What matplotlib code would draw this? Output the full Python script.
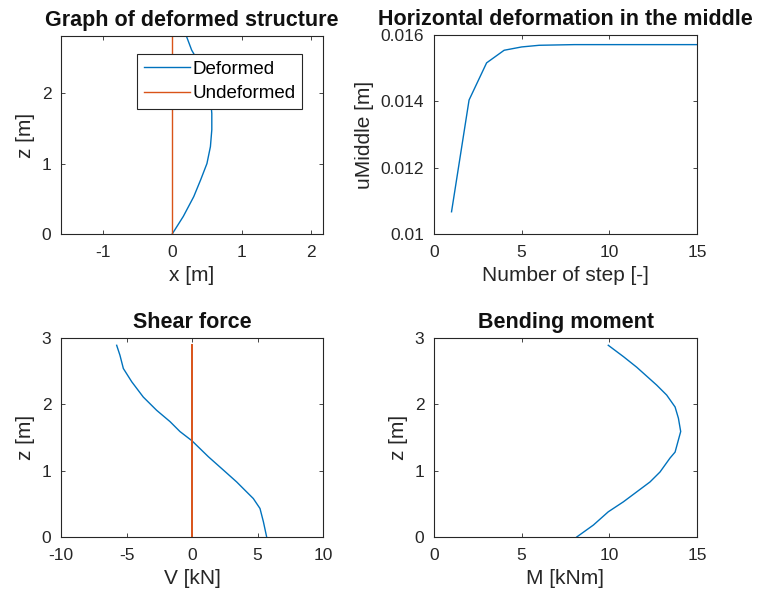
import matplotlib
matplotlib.use("Agg")
import matplotlib.pyplot as plt
from matplotlib.ticker import FuncFormatter

plt.rcParams['font.family'] = ['Liberation Sans', 'DejaVu Sans']
plt.rcParams['axes.unicode_minus'] = False

# deformed shape of the column
z_def = [0.0, 0.25, 0.53, 0.77, 1.0, 1.24, 1.48, 1.71, 1.95, 2.14, 2.28, 2.44, 2.61, 2.82]
x_def = [0.0, 0.16, 0.31, 0.41, 0.50, 0.55, 0.57, 0.57, 0.55, 0.50, 0.45, 0.38, 0.28, 0.20]
z_undef = [0.0, 2.9]
x_undef = [0.0, 0.0]

# horizontal deformation at mid height per iteration step
steps = [1, 2, 3, 4, 5, 6, 7, 8, 9, 10, 11, 12, 13, 14, 15]
u_middle = [0.01067, 0.01404, 0.01516, 0.01554, 0.01564, 0.01569, 0.01570,
            0.01571, 0.01571, 0.01571, 0.01571, 0.01571, 0.01571, 0.01571, 0.01571]

# shear force
z_shear = [0.0, 0.23, 0.43, 0.58, 0.68, 0.83, 1.01, 1.21, 1.45, 1.59, 1.74,
           1.91, 2.11, 2.34, 2.54, 2.74, 2.89]
v_shear = [5.70, 5.45, 5.19, 4.68, 4.17, 3.41, 2.39, 1.25, 0.0, -0.92, -1.68,
           -2.70, -3.72, -4.60, -5.24, -5.50, -5.75]

# bending moment
z_mom = [0.0, 0.18, 0.38, 0.53, 0.68, 0.83, 0.98, 1.19, 1.28, 1.59, 1.79,
         1.96, 2.14, 2.29, 2.56, 2.72, 2.89]
m_mom = [8.14, 9.09, 9.94, 10.8, 11.56, 12.32, 12.89, 13.46, 13.75, 14.07, 13.94,
         13.75, 13.27, 12.70, 11.56, 10.80, 9.94]
z_zero = [0.0, 2.9]
zero = [0.0, 0.0]

BLUE = '#0072BD'
ORANGE = '#D95319'
GREY = '#262626'
W, H = 767, 607
TICK_FS = 12.5
LABEL_FS = 15
TITLE_FS = 15.5


def style(ax):
    ax.tick_params(direction='in', length=3, width=0.6, top=True, right=True,
                   labelsize=TICK_FS, colors=GREY)
    ax.tick_params(axis='x', pad=8)
    ax.tick_params(axis='y', pad=7)
    for s in ax.spines.values():
        s.set_color(GREY)
        s.set_linewidth(0.8)


def labels(ax, title, xlabel, ylabel):
    ax.set_title(title, fontsize=TITLE_FS, fontweight='bold', pad=7, color='#111111')
    ax.set_xlabel(xlabel, fontsize=LABEL_FS, color=GREY, labelpad=4)
    ax.set_ylabel(ylabel, fontsize=LABEL_FS, color=GREY, labelpad=5)


def box(l, t, r, b):
    return [l / W, 1 - b / H, (r - l) / W, (b - t) / H]


fig = plt.figure(figsize=(W / 100, H / 100), dpi=100)

# top left: deformed structure
ax1 = fig.add_axes(box(61, 36, 323, 234))
ax1.plot(x_def, z_def, color=BLUE, lw=1.0, label='Deformed')
ax1.plot(x_undef, z_undef, color=ORANGE, lw=1.0, label='Undeformed')
ax1.set_xlim(-1.6, 2.17)
ax1.set_ylim(0, 2.81)
ax1.set_xticks([-1, 0, 1, 2])
ax1.set_yticks([0, 1, 2])
labels(ax1, 'Graph of deformed structure', 'x [m]', 'z [m]')
leg = ax1.legend(loc='upper right', bbox_to_anchor=(0.92, 0.91), fontsize=13.5,
                 fancybox=False, framealpha=1, edgecolor=GREY, handlelength=2.45,
                 borderpad=0.35, labelspacing=0.4, handletextpad=0.15, borderaxespad=0)
leg.get_frame().set_linewidth(0.8)
style(ax1)

# top right: horizontal deformation in the middle
ax2 = fig.add_axes(box(434, 35, 697, 234))
ax2.plot(steps, u_middle, color=BLUE, lw=1.0)
ax2.set_xlim(0, 15)
ax2.set_ylim(0.01, 0.016)
ax2.set_xticks([0, 5, 10, 15])
ax2.set_yticks([0.01, 0.012, 0.014, 0.016])
ax2.yaxis.set_major_formatter(FuncFormatter(lambda v, p: '%g' % v))
labels(ax2, 'Horizontal deformation in the middle', 'Number of step [-]', 'uMiddle [m]')
style(ax2)

# bottom left: shear force
ax3 = fig.add_axes(box(61, 338, 323, 537))
ax3.plot(v_shear, z_shear, color=BLUE, lw=1.0)
ax3.plot(zero, z_zero, color=ORANGE, lw=1.4)
ax3.set_xlim(-10, 10)
ax3.set_ylim(0, 3)
ax3.set_xticks([-10, -5, 0, 5, 10])
ax3.set_yticks([0, 1, 2, 3])
labels(ax3, 'Shear force', 'V [kN]', 'z [m]')
style(ax3)

# bottom right: bending moment
ax4 = fig.add_axes(box(434, 338, 697, 537))
ax4.plot(m_mom, z_mom, color=BLUE, lw=1.0)
ax4.plot(zero, z_zero, color=ORANGE, lw=1.4)
ax4.set_xlim(0, 15)
ax4.set_ylim(0, 3)
ax4.set_xticks([0, 5, 10, 15])
ax4.set_yticks([0, 1, 2, 3])
labels(ax4, 'Bending moment', 'M [kNm]', 'z [m]')
style(ax4)

plt.savefig('out.png', dpi=100)
